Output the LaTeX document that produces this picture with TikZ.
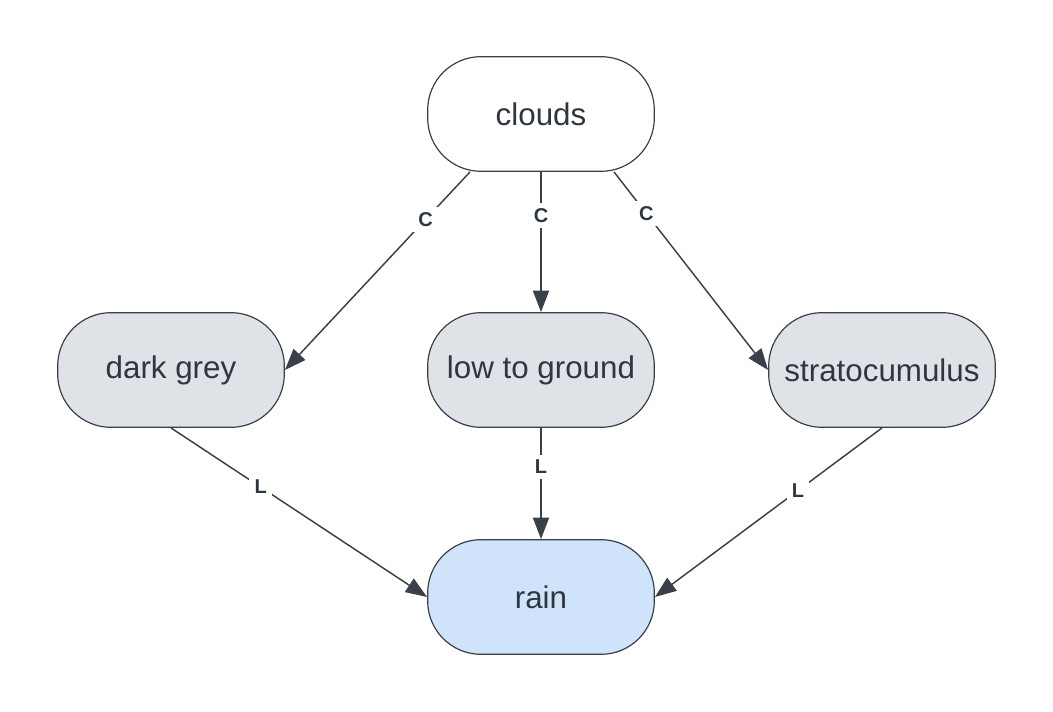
\documentclass[tikz,border=0pt]{standalone}
\usepackage{fontspec}
\setmainfont{Liberation Sans}
\usetikzlibrary{arrows.meta}
\definecolor{edgec}{HTML}{3A4049}
\definecolor{textc}{HTML}{2E3640}
\definecolor{greyf}{HTML}{DFE3E8}
\definecolor{bluef}{HTML}{CFE4FA}
\begin{document}
\begin{tikzpicture}[x=0.75pt,y=-0.75pt,
  box/.style={draw=edgec,line width=0.9pt,rounded corners=40pt,minimum width=170pt,minimum height=86pt,
    font=\fontsize{23.5}{26}\selectfont,text=textc,inner sep=0pt},
  conn/.style={draw=edgec,line width=1.1pt,-{Triangle[length=16pt,width=12pt]}},
  lab/.style={fill=white,font=\bfseries\fontsize{15}{16}\selectfont,text=textc,inner sep=4pt}]
\useasboundingbox (0,0) rectangle (1053,712);
\node[box,fill=white] (clouds) at (541,114) {clouds};
\node[box,fill=greyf] (dg) at (171,370) {dark grey};
\node[box,fill=greyf] (low) at (541,370) {low to ground};
\node[box,fill=greyf] (strat) at (882,370) {stratocumulus};
\node[box,fill=bluef] (rain) at (541,597) {rain};
\draw[conn] ([xshift=-53.25pt]clouds.south) -- node[lab,pos=0.24] {C} (dg.east);
\draw[conn] (clouds.south) -- node[lab,pos=0.31] {C} (low.north);
\draw[conn] ([xshift=54.75pt]clouds.south) -- node[lab,pos=0.21] {C} (strat.west);
\draw[conn] (dg.south) -- node[lab,pos=0.35] {L} (rain.west);
\draw[conn] (low.south) -- node[lab,pos=0.35] {L} (rain.north);
\draw[conn] (strat.south) -- node[lab,pos=0.37] {L} (rain.east);
\end{tikzpicture}
\end{document}
